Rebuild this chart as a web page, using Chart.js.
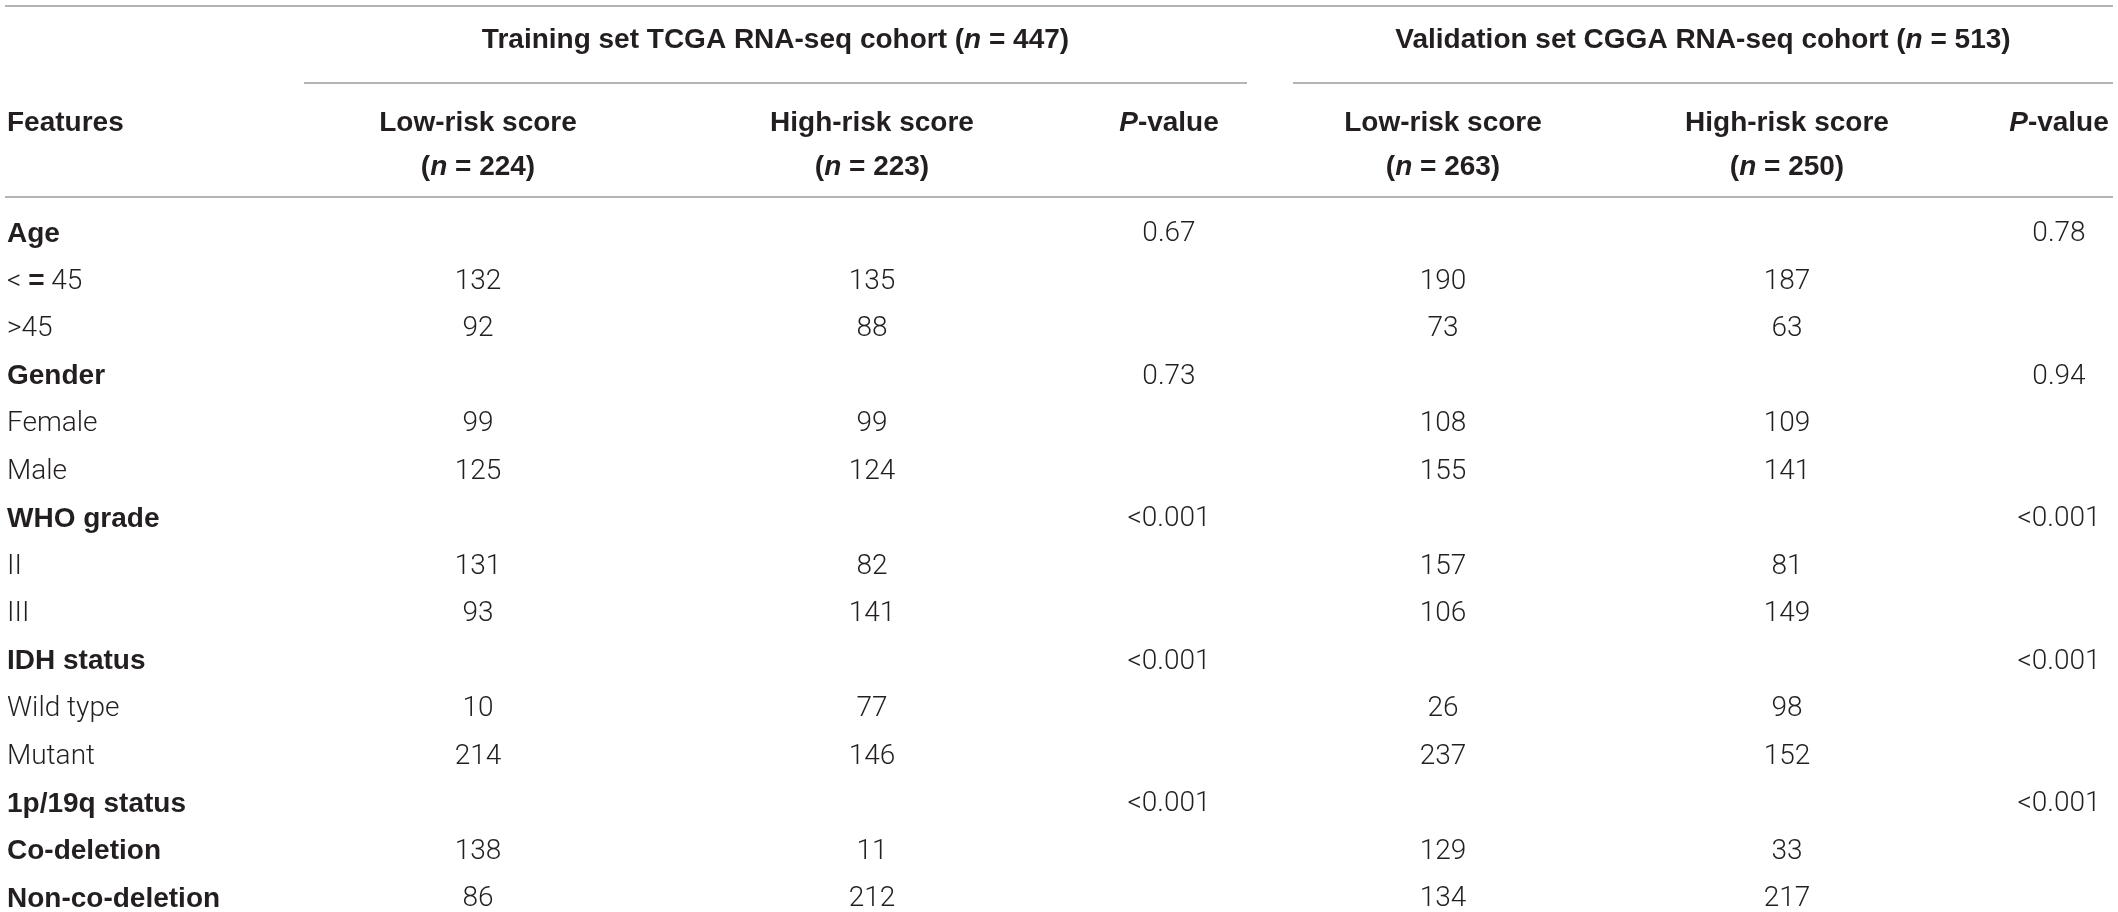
<!DOCTYPE html>
<html>
<head>
<meta charset="utf-8">
<script src="https://cdn.jsdelivr.net/npm/chart.js@4.4.0/dist/chart.umd.min.js"></script>
<style>
  html, body { margin: 0; padding: 0; background: #fff; }
  canvas { display: block; }
</style>
</head>
<body>
<canvas id="table" width="2118" height="912"></canvas>
<script>
// table rows (first column) and which of them are set in bold
const features = ['Age', '< = 45', '>45', 'Gender', 'Female', 'Male', 'WHO grade', 'II', 'III',
  'IDH status', 'Wild type', 'Mutant', '1p/19q status', 'Co-deletion', 'Non-co-deletion'];
const boldRows = ['Age', 'Gender', 'WHO grade', 'IDH status', '1p/19q status', 'Co-deletion', 'Non-co-deletion'];

// training set TCGA
const tcgaLow  = [null, 132, 92, null, 99, 125, null, 131, 93, null, 10, 214, null, 138, 86];
const tcgaHigh = [null, 135, 88, null, 99, 124, null, 82, 141, null, 77, 146, null, 11, 212];
const tcgaP    = ['0.67', null, null, '0.73', null, null, '<0.001', null, null, '<0.001', null, null, '<0.001', null, null];

// validation set CGGA
const cggaLow  = [null, 190, 73, null, 108, 155, null, 157, 106, null, 26, 237, null, 129, 134];
const cggaHigh = [null, 187, 63, null, 109, 141, null, 81, 149, null, 98, 152, null, 33, 217];
const cggaP    = ['0.78', null, null, '0.94', null, null, '<0.001', null, null, '<0.001', null, null, '<0.001', null, null];

// header texts
const groupTitles = [
  [['Training set TCGA RNA-seq cohort (', 0], ['n', 1], [' = 447)', 0]],
  [['Validation set CGGA RNA-seq cohort (', 0], ['n', 1], [' = 513)', 0]]
];
const colTitles = ['Low-risk score', 'High-risk score', null, 'Low-risk score', 'High-risk score', null];
const colCounts = [224, 223, null, 263, 250, null];

// layout (px)
const colX = [478, 872, 1169, 1443, 1787, 2059];
const groupSpan = [[304, 1247], [1293, 2113]];
const labelX = 7;
const headY = { title: 40, sub1: 123, sub2: 167, ruleTop: 6, ruleGroup: 83, ruleHead: 197 };
const INK = '#231f20';
const RULE = '#9b9b9b';
const BOLD = 'bold 28px "Liberation Sans", Arial, sans-serif';
const BOLD_IT = 'italic bold 28px "Liberation Sans", Arial, sans-serif';
const LIGHT = '300 28px Roboto, "Liberation Sans", sans-serif';

function column(values, x) {
  const pts = [];
  values.forEach((v, i) => {
    if (v !== null) pts.push({ x: x, y: features[i], text: String(v) });
  });
  return pts;
}

const datasets = [
  { label: 'Features', align: 'left', data: features.map(f => ({ x: labelX, y: f, text: f })) },
  { label: 'TCGA low', align: 'center', data: column(tcgaLow, colX[0]) },
  { label: 'TCGA high', align: 'center', data: column(tcgaHigh, colX[1]) },
  { label: 'TCGA P', align: 'center', data: column(tcgaP, colX[2]) },
  { label: 'CGGA low', align: 'center', data: column(cggaLow, colX[3]) },
  { label: 'CGGA high', align: 'center', data: column(cggaHigh, colX[4]) },
  { label: 'CGGA P', align: 'center', data: column(cggaP, colX[5]) }
];

// draw a list of [text, font] runs, centred on x or starting at x
function drawRuns(ctx, runs, x, y, left) {
  let w = 0;
  runs.forEach(r => { ctx.font = r[1]; w += ctx.measureText(r[0]).width; });
  let cx = left ? x : x - w / 2;
  ctx.textAlign = 'left';
  runs.forEach(r => {
    ctx.font = r[1];
    ctx.fillText(r[0], cx, y);
    cx += ctx.measureText(r[0]).width;
  });
}

// header runs: italic flag -> font
function boldRuns(runs) {
  return runs.map(r => [r[0], r[1] ? BOLD_IT : BOLD]);
}

function rule(ctx, x0, x1, y) {
  ctx.beginPath();
  ctx.moveTo(x0, y);
  ctx.lineTo(x1, y);
  ctx.stroke();
}

const tableText = {
  id: 'tableText',
  afterDatasetsDraw(chart) {
    const ctx = chart.ctx;
    const xs = chart.scales.x;
    const px = v => xs.getPixelForValue(v);
    ctx.save();
    ctx.fillStyle = INK;
    ctx.textBaseline = 'middle';

    // body cells
    chart.data.datasets.forEach((ds, di) => {
      chart.getDatasetMeta(di).data.forEach((pt, i) => {
        const cell = ds.data[i];
        if (di === 0 && cell.text === '< = 45') {
          // the "=" is set bold in the original
          drawRuns(ctx, [['< ', LIGHT], ['=', BOLD], [' 45', LIGHT]], pt.x, pt.y, true);
          return;
        }
        ctx.font = (di === 0 && boldRows.includes(cell.text)) ? BOLD : LIGHT;
        ctx.textAlign = ds.align;
        ctx.fillText(cell.text, pt.x, pt.y);
      });
    });

    // header
    groupTitles.forEach((t, g) => {
      drawRuns(ctx, boldRuns(t), (px(groupSpan[g][0]) + px(groupSpan[g][1])) / 2, headY.title);
    });
    ctx.font = BOLD;
    ctx.textAlign = 'left';
    ctx.fillText('Features', px(labelX), headY.sub1);
    colTitles.forEach((t, i) => {
      const x = px(colX[i]);
      if (t) {
        drawRuns(ctx, boldRuns([[t, 0]]), x, headY.sub1);
        drawRuns(ctx, boldRuns([['(', 0], ['n', 1], [' = ' + colCounts[i] + ')', 0]]), x, headY.sub2);
      } else {
        drawRuns(ctx, boldRuns([['P', 1], ['-value', 0]]), x, headY.sub1);
      }
    });

    // rules
    ctx.strokeStyle = RULE;
    ctx.lineWidth = 1.6;
    rule(ctx, px(5), px(2113), headY.ruleTop);
    groupSpan.forEach(s => rule(ctx, px(s[0]), px(s[1]), headY.ruleGroup));
    rule(ctx, px(5), px(2113), headY.ruleHead);
    ctx.restore();
  }
};

new Chart(document.getElementById('table'), {
  type: 'scatter',
  data: { datasets: datasets },
  options: {
    responsive: false,
    animation: false,
    events: [],
    layout: { padding: { top: 234, bottom: 13, left: 0, right: 0 } },
    elements: { point: { radius: 0, hoverRadius: 0 } },
    plugins: { legend: { display: false }, tooltip: { enabled: false } },
    scales: {
      x: { type: 'linear', min: 0, max: 2118, display: false },
      y: { type: 'category', labels: features, offset: false, display: false }
    }
  },
  plugins: [tableText]
});
</script>
</body>
</html>
